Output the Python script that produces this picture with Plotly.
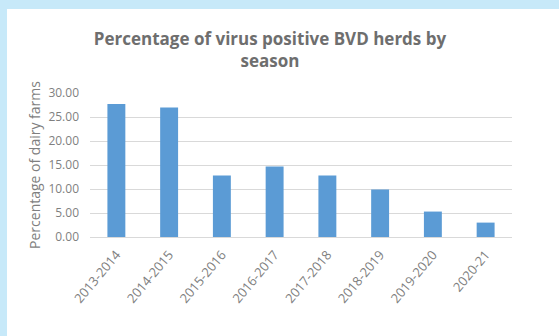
import plotly.graph_objects as go

seasons = ["2013-2014", "2014-2015", "2015-2016", "2016-2017", "2017-2018", "2018-2019", "2019-2020", "2020-21"]
values = [27.7, 27.0, 12.8, 14.7, 12.8, 9.9, 5.3, 3.0]
yticks = [0, 5, 10, 15, 20, 25, 30]

W, H = 559, 336
L, R, T, B = 90, 47, 93, 99
pw, ph = W - L - R, H - T - B

fig = go.Figure(go.Bar(x=seasons, y=values, marker_color="#5B9BD5",
                       marker_line_width=0))
fig.update_layout(
    width=W, height=H,
    margin=dict(l=L, r=R, t=T, b=B),
    paper_bgcolor="#C7E9F9",
    plot_bgcolor="rgba(0,0,0,0)",
    bargap=0.66,
    font=dict(family="Open Sans", color="#7F7F7F"),
    title=dict(text="<b>Percentage of virus positive BVD herds by</b><br><b>season</b>",
               x=270 / W, xanchor="center", y=1 - 45 / H, yanchor="top",
               font=dict(size=17, color="#6E6E6E", family="Open Sans"),
               ),
    showlegend=False,
)
fig.update_xaxes(tickangle=-50, tickfont=dict(size=13, color="#7F7F7F"),
                 showline=True, linecolor="#D9D9D9", ticks="", ticklabelstandoff=4)
fig.update_yaxes(range=[0, 30], tickvals=yticks, tickformat=".2f",
                 tickfont=dict(size=12, color="#7F7F7F"), ticklabelstandoff=10,
                 gridcolor="#D9D9D9", zeroline=False, showline=False,
                 title=dict(text="Percentage of dairy farms", font=dict(size=14, color="#7F7F7F"),
                            standoff=4))
fig.add_shape(type="rect", xref="paper", yref="paper",
              x0=(7 - L) / pw, x1=(W + 5 - L) / pw,
              y0=-(B + 5) / ph, y1=(H - 9 - B) / ph,
              fillcolor="white", line_width=0, layer="below")
fig.write_html("out.html")
